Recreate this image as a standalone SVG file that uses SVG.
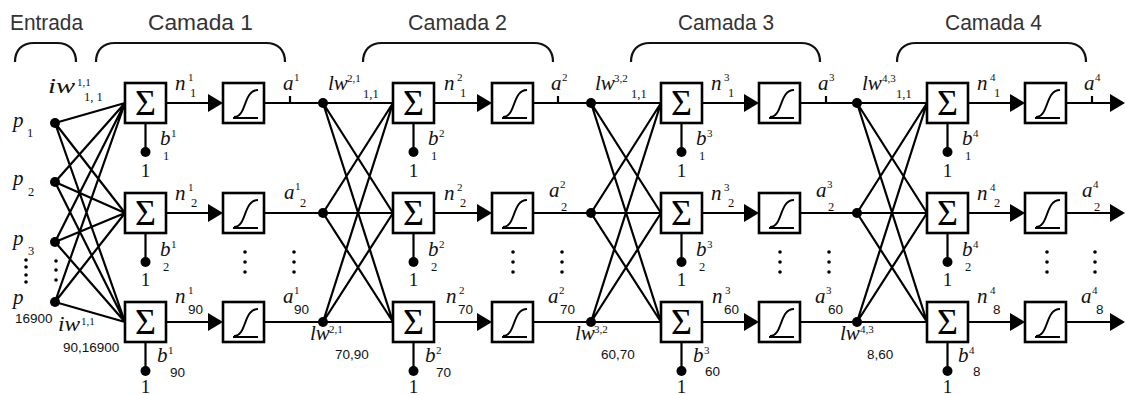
<svg xmlns="http://www.w3.org/2000/svg" width="1125" height="395" viewBox="0 0 1125 395">
  <defs>
    <style>
      .ln { stroke: #000; stroke-width: 2.2; fill: none; }
      .box { fill: #fff; stroke: #000; stroke-width: 2.6; }
      .crv { stroke: #000; stroke-width: 2; fill: none; }
      .dot { fill: #000; }
      .pt { fill: #000; }
      .brace { stroke: #111; stroke-width: 2.2; fill: none; }
      .ttl { font-family: "Liberation Sans", Arial, sans-serif; font-size: 22px; fill: #333; }
      .it { font-family: "Liberation Serif", "Times New Roman", serif; font-style: italic; font-size: 21px; fill: #111; }
      .sup { font-family: "Liberation Serif", "Times New Roman", serif; font-size: 11px; fill: #111; }
      .sub { font-family: "Liberation Serif", "Times New Roman", serif; font-size: 12.5px; fill: #111; }
      .num { font-family: "Liberation Sans", Arial, sans-serif; font-size: 13.5px; fill: #111; }
      .one { font-family: "Liberation Serif", "Times New Roman", serif; font-size: 19px; fill: #111; text-anchor: middle; }
      .sig { font-family: "Liberation Serif", "Times New Roman", serif; font-size: 36px; fill: #000; text-anchor: middle; }
    </style>
    <!-- summation block: 41x40 box with a sigma -->
    <g id="sumBlock">
      <rect class="box" x="0" y="-20" width="41" height="40"/>
      <text class="sig" x="20.5" y="12">Σ</text>
    </g>
    <!-- log-sigmoid transfer block -->
    <g id="sigBlock">
      <rect class="box" x="0" y="-20" width="41" height="40"/>
      <path class="crv" d="M10,15 L35,15"/>
      <path class="crv" d="M11,14 C24,14 20,-13 35,-13"/>
    </g>
    <!-- bias input: stem and dot -->
    <g id="biasStem">
      <path class="ln" d="M0,20 L0,49"/>
      <circle class="dot" cx="0" cy="49" r="5"/>
    </g>
    <polygon id="arrowHead" points="-15,-9 0,0 -15,9" fill="#000"/>
  </defs>

  <rect width="1125" height="395" fill="#fff"/>

  <!-- section titles and braces -->
  <g id="titles">
    <text class="ttl" x="10" y="30" textLength="73" lengthAdjust="spacingAndGlyphs">Entrada</text>
    <text class="ttl" x="148" y="30" textLength="105" lengthAdjust="spacingAndGlyphs">Camada 1</text>
    <text class="ttl" x="408" y="30" textLength="99" lengthAdjust="spacingAndGlyphs">Camada 2</text>
    <text class="ttl" x="678" y="30" textLength="96" lengthAdjust="spacingAndGlyphs">Camada 3</text>
    <text class="ttl" x="945" y="30" textLength="97" lengthAdjust="spacingAndGlyphs">Camada 4</text>
    <path class="brace" d="M15,62 C15,50 22,43 34,43 L57,43 C69,43 76,50 76,62"/>
    <path class="brace" d="M96,62 C96,50 103,43 115,43 L266,43 C278,43 285,50 285,62"/>
    <path class="brace" d="M363,62 C363,50 370,43 382,43 L534,43 C546,43 553,50 553,62"/>
    <path class="brace" d="M631,62 C631,50 638,43 650,43 L801,43 C813,43 820,50 820,62"/>
    <path class="brace" d="M897,62 C897,50 904,43 916,43 L1067,43 C1079,43 1086,50 1086,62"/>
  </g>

  <!-- connectors -->
  <g id="connectors">
    <!-- input weights: every input to every first-layer sum -->
    <path class="ln" d="M55,123 L125,103 M55,123 L125,213 M55,123 L125,322
                        M55,182 L125,103 M55,182 L125,213 M55,182 L125,322
                        M55,242 L125,103 M55,242 L125,213 M55,242 L125,322
                        M55,302 L125,103 M55,302 L125,213 M55,302 L125,322"/>
    <!-- layer weights (cross links) -->
    <path class="ln" d="M323,103 L393,213 M323,103 L393,322 M323,213 L393,103 M323,213 L393,322 M323,322 L393,103 M323,322 L393,213"/>
    <path class="ln" d="M591,103 L661,213 M591,103 L661,322 M591,213 L661,103 M591,213 L661,322 M591,322 L661,103 M591,322 L661,213"/>
    <path class="ln" d="M857,103 L927,213 M857,103 L927,322 M857,213 L927,103 M857,213 L927,322 M857,322 L927,103 M857,322 L927,213"/>
    <!-- straight signal paths: sum -> transfer, transfer -> next sum -->
    <path class="ln" d="M166,103 L210,103 M166,213 L210,213 M166,322 L210,322
                        M264,103 L393,103 M264,213 L393,213 M264,322 L393,322
                        M434,103 L478,103 M434,213 L478,213 M434,322 L478,322
                        M532,103 L661,103 M532,213 L661,213 M532,322 L661,322
                        M702,103 L746,103 M702,213 L746,213 M702,322 L746,322
                        M800,103 L927,103 M800,213 L927,213 M800,322 L927,322
                        M968,103 L1012,103 M968,213 L1012,213 M968,322 L1012,322
                        M1066,103 L1112,103 M1066,213 L1112,213 M1066,322 L1112,322"/>
    <!-- output ticks -->
    <path class="ln" d="M290,96 L290,103 M558,96 L558,103 M826,96 L826,103 M1092,96 L1092,103" stroke-width="1.4"/>
    <!-- arrowheads -->
    <use href="#arrowHead" x="223" y="103"/><use href="#arrowHead" x="223" y="213"/><use href="#arrowHead" x="223" y="322"/>
    <use href="#arrowHead" x="492" y="103"/><use href="#arrowHead" x="492" y="213"/><use href="#arrowHead" x="492" y="322"/>
    <use href="#arrowHead" x="759" y="103"/><use href="#arrowHead" x="759" y="213"/><use href="#arrowHead" x="759" y="322"/>
    <use href="#arrowHead" x="1025" y="103"/><use href="#arrowHead" x="1025" y="213"/><use href="#arrowHead" x="1025" y="322"/>
    <use href="#arrowHead" x="1125" y="103"/><use href="#arrowHead" x="1125" y="213"/><use href="#arrowHead" x="1125" y="322"/>
    <!-- bias stems -->
    <use href="#biasStem" x="145.5" y="103"/><use href="#biasStem" x="145.5" y="213"/><use href="#biasStem" x="145.5" y="322"/>
    <use href="#biasStem" x="413.5" y="103"/><use href="#biasStem" x="413.5" y="213"/><use href="#biasStem" x="413.5" y="322"/>
    <use href="#biasStem" x="681.5" y="103"/><use href="#biasStem" x="681.5" y="213"/><use href="#biasStem" x="681.5" y="322"/>
    <use href="#biasStem" x="947.5" y="103"/><use href="#biasStem" x="947.5" y="213"/><use href="#biasStem" x="947.5" y="322"/>
  </g>

  <!-- inputs -->
  <g id="input-p1">
    <circle class="dot" cx="55" cy="123" r="5"/>
    <text class="it" x="13" y="127">p</text><text class="sub" x="27" y="137">1</text>
  </g>
  <g id="input-p2">
    <circle class="dot" cx="55" cy="182" r="5"/>
    <text class="it" x="13" y="185">p</text><text class="sub" x="28" y="196">2</text>
  </g>
  <g id="input-p3">
    <circle class="dot" cx="55" cy="242" r="5"/>
    <text class="it" x="13" y="245">p</text><text class="sub" x="28" y="255">3</text>
  </g>
  <g id="input-p16900">
    <circle class="dot" cx="55" cy="302" r="5"/>
    <text class="it" x="13" y="304">p</text><text class="num" x="15" y="323">16900</text>
  </g>
  <g id="input-ellipsis">
    <circle class="pt" cx="26" cy="260" r="1.8"/><circle class="pt" cx="26" cy="267" r="1.8"/>
    <circle class="pt" cx="26" cy="275" r="1.8"/><circle class="pt" cx="26" cy="282" r="1.8"/>
    <circle class="pt" cx="56" cy="261" r="1.8"/><circle class="pt" cx="56" cy="270" r="1.8"/><circle class="pt" cx="56" cy="280" r="1.8"/>
  </g>
  <g id="iw-labels">
    <text class="it" x="48" y="93" textLength="27" lengthAdjust="spacingAndGlyphs">iw</text>
    <text class="sup" x="77" y="86">1,1</text>
    <text class="sub" x="84" y="101">1, 1</text>
    <text class="it" x="58" y="331" textLength="22" lengthAdjust="spacingAndGlyphs">iw</text>
    <text class="sup" x="81" y="325">1,1</text>
    <text class="num" x="63" y="352">90,16900</text>
  </g>

  <!-- layer 1 -->
  <g id="L1-sum1"><use href="#sumBlock" x="125" y="103"/></g>
  <g id="L1-sum2"><use href="#sumBlock" x="125" y="213"/></g>
  <g id="L1-sum90"><use href="#sumBlock" x="125" y="322"/></g>
  <g id="L1-f1"><use href="#sigBlock" x="223" y="103"/></g>
  <g id="L1-f2"><use href="#sigBlock" x="223" y="213"/></g>
  <g id="L1-f90"><use href="#sigBlock" x="223" y="322"/></g>
  <g id="L1-labels">
    <text class="it" x="175" y="90">n</text><text class="sup" x="188" y="81">1</text><text class="sub" x="190" y="97">1</text>
    <text class="it" x="175" y="200">n</text><text class="sup" x="188" y="191">1</text><text class="sub" x="191" y="207">2</text>
    <text class="it" x="175" y="303">n</text><text class="sup" x="188" y="294">1</text><text class="num" x="188" y="314">90</text>
    <text class="it" x="283" y="90">a</text><text class="sup" x="294" y="81">1</text>
    <text class="it" x="284" y="199">a</text><text class="sup" x="295" y="190">1</text><text class="sub" x="300" y="207">2</text>
    <text class="it" x="283" y="303">a</text><text class="sup" x="294" y="294">1</text><text class="num" x="294" y="314">90</text>
    <text class="it" x="160" y="145">b</text><text class="sup" x="171" y="137">1</text><text class="sub" x="163" y="160">1</text>
    <text class="it" x="160" y="256">b</text><text class="sup" x="171" y="248">1</text><text class="sub" x="163" y="271">2</text>
    <text class="it" x="157" y="362">b</text><text class="sup" x="168" y="354">1</text><text class="num" x="170" y="377">90</text>
    <text class="one" x="145.5" y="177">1</text><text class="one" x="145.5" y="286">1</text><text class="one" x="145.5" y="393">1</text>
    <circle class="pt" cx="245" cy="252" r="1.8"/><circle class="pt" cx="245" cy="262" r="1.8"/><circle class="pt" cx="245" cy="272" r="1.8"/>
    <circle class="pt" cx="294" cy="252" r="1.8"/><circle class="pt" cx="294" cy="262" r="1.8"/><circle class="pt" cx="294" cy="272" r="1.8"/>
  </g>

  <!-- layer 2 -->
  <g id="L2-in"><circle class="dot" cx="323" cy="103" r="5"/><circle class="dot" cx="323" cy="213" r="5"/><circle class="dot" cx="323" cy="322" r="5"/></g>
  <g id="L2-sum1"><use href="#sumBlock" x="393" y="103"/></g>
  <g id="L2-sum2"><use href="#sumBlock" x="393" y="213"/></g>
  <g id="L2-sum70"><use href="#sumBlock" x="393" y="322"/></g>
  <g id="L2-f1"><use href="#sigBlock" x="492" y="103"/></g>
  <g id="L2-f2"><use href="#sigBlock" x="492" y="213"/></g>
  <g id="L2-f70"><use href="#sigBlock" x="492" y="322"/></g>
  <g id="L2-labels">
    <text class="it" x="328" y="90">lw</text><text class="sup" x="347" y="82">2,1</text><text class="sub" x="363" y="98">1,1</text>
    <text class="it" x="310" y="340">lw</text><text class="sup" x="329" y="333">2,1</text><text class="num" x="335" y="359">70,90</text>
    <text class="it" x="444" y="90">n</text><text class="sup" x="457" y="81">2</text><text class="sub" x="460" y="97">1</text>
    <text class="it" x="444" y="200">n</text><text class="sup" x="457" y="191">2</text><text class="sub" x="460" y="207">2</text>
    <text class="it" x="446" y="303">n</text><text class="sup" x="459" y="294">2</text><text class="num" x="458" y="314">70</text>
    <text class="it" x="551" y="90">a</text><text class="sup" x="562" y="81">2</text>
    <text class="it" x="549" y="197">a</text><text class="sup" x="560" y="188">2</text><text class="sub" x="561" y="211">2</text>
    <text class="it" x="548" y="303">a</text><text class="sup" x="559" y="294">2</text><text class="num" x="560" y="314">70</text>
    <text class="it" x="428" y="145">b</text><text class="sup" x="439" y="137">2</text><text class="sub" x="431" y="160">1</text>
    <text class="it" x="428" y="256">b</text><text class="sup" x="439" y="248">2</text><text class="sub" x="431" y="271">2</text>
    <text class="it" x="425" y="362">b</text><text class="sup" x="436" y="354">2</text><text class="num" x="436" y="377">70</text>
    <text class="one" x="413.5" y="177">1</text><text class="one" x="413.5" y="286">1</text><text class="one" x="413.5" y="393">1</text>
    <circle class="pt" cx="513" cy="252" r="1.8"/><circle class="pt" cx="513" cy="262" r="1.8"/><circle class="pt" cx="513" cy="272" r="1.8"/>
    <circle class="pt" cx="562" cy="252" r="1.8"/><circle class="pt" cx="562" cy="262" r="1.8"/><circle class="pt" cx="562" cy="272" r="1.8"/>
  </g>

  <!-- layer 3 -->
  <g id="L3-in"><circle class="dot" cx="591" cy="103" r="5"/><circle class="dot" cx="591" cy="213" r="5"/><circle class="dot" cx="591" cy="322" r="5"/></g>
  <g id="L3-sum1"><use href="#sumBlock" x="661" y="103"/></g>
  <g id="L3-sum2"><use href="#sumBlock" x="661" y="213"/></g>
  <g id="L3-sum60"><use href="#sumBlock" x="661" y="322"/></g>
  <g id="L3-f1"><use href="#sigBlock" x="759" y="103"/></g>
  <g id="L3-f2"><use href="#sigBlock" x="759" y="213"/></g>
  <g id="L3-f60"><use href="#sigBlock" x="759" y="322"/></g>
  <g id="L3-labels">
    <text class="it" x="595" y="90">lw</text><text class="sup" x="614" y="82">3,2</text><text class="sub" x="631" y="98">1,1</text>
    <text class="it" x="575" y="340">lw</text><text class="sup" x="594" y="333">3,2</text><text class="num" x="601" y="359">60,70</text>
    <text class="it" x="711" y="90">n</text><text class="sup" x="724" y="81">3</text><text class="sub" x="728" y="97">1</text>
    <text class="it" x="711" y="200">n</text><text class="sup" x="724" y="191">3</text><text class="sub" x="728" y="207">2</text>
    <text class="it" x="712" y="303">n</text><text class="sup" x="725" y="294">3</text><text class="num" x="724" y="314">60</text>
    <text class="it" x="818" y="90">a</text><text class="sup" x="829" y="81">3</text>
    <text class="it" x="816" y="197">a</text><text class="sup" x="827" y="188">3</text><text class="sub" x="828" y="211">2</text>
    <text class="it" x="815" y="303">a</text><text class="sup" x="826" y="294">3</text><text class="num" x="828" y="314">60</text>
    <text class="it" x="696" y="145">b</text><text class="sup" x="707" y="137">3</text><text class="sub" x="699" y="160">1</text>
    <text class="it" x="696" y="256">b</text><text class="sup" x="707" y="248">3</text><text class="sub" x="699" y="271">2</text>
    <text class="it" x="693" y="362">b</text><text class="sup" x="704" y="354">3</text><text class="num" x="705" y="376">60</text>
    <text class="one" x="681.5" y="177">1</text><text class="one" x="681.5" y="286">1</text><text class="one" x="681.5" y="393">1</text>
    <circle class="pt" cx="780" cy="252" r="1.8"/><circle class="pt" cx="780" cy="262" r="1.8"/><circle class="pt" cx="780" cy="272" r="1.8"/>
    <circle class="pt" cx="829" cy="252" r="1.8"/><circle class="pt" cx="829" cy="262" r="1.8"/><circle class="pt" cx="829" cy="272" r="1.8"/>
  </g>

  <!-- layer 4 -->
  <g id="L4-in"><circle class="dot" cx="857" cy="103" r="5"/><circle class="dot" cx="857" cy="213" r="5"/><circle class="dot" cx="857" cy="322" r="5"/></g>
  <g id="L4-sum1"><use href="#sumBlock" x="927" y="103"/></g>
  <g id="L4-sum2"><use href="#sumBlock" x="927" y="213"/></g>
  <g id="L4-sum8"><use href="#sumBlock" x="927" y="322"/></g>
  <g id="L4-f1"><use href="#sigBlock" x="1025" y="103"/></g>
  <g id="L4-f2"><use href="#sigBlock" x="1025" y="213"/></g>
  <g id="L4-f8"><use href="#sigBlock" x="1025" y="322"/></g>
  <g id="L4-labels">
    <text class="it" x="862" y="90">lw</text><text class="sup" x="882" y="82">4,3</text><text class="sub" x="896" y="98">1,1</text>
    <text class="it" x="840" y="340">lw</text><text class="sup" x="860" y="333">4,3</text><text class="num" x="867" y="359">8,60</text>
    <text class="it" x="977" y="90">n</text><text class="sup" x="990" y="81">4</text><text class="sub" x="994" y="97">1</text>
    <text class="it" x="977" y="200">n</text><text class="sup" x="990" y="191">4</text><text class="sub" x="994" y="207">2</text>
    <text class="it" x="977" y="303">n</text><text class="sup" x="990" y="294">4</text><text class="num" x="993" y="314">8</text>
    <text class="it" x="1084" y="90">a</text><text class="sup" x="1095" y="81">4</text>
    <text class="it" x="1082" y="197">a</text><text class="sup" x="1093" y="188">4</text><text class="sub" x="1094" y="211">2</text>
    <text class="it" x="1081" y="303">a</text><text class="sup" x="1092" y="294">4</text><text class="num" x="1096" y="314">8</text>
    <text class="it" x="962" y="145">b</text><text class="sup" x="973" y="137">4</text><text class="sub" x="965" y="160">1</text>
    <text class="it" x="962" y="256">b</text><text class="sup" x="973" y="248">4</text><text class="sub" x="965" y="271">2</text>
    <text class="it" x="958" y="362">b</text><text class="sup" x="969" y="354">4</text><text class="num" x="973" y="376">8</text>
    <text class="one" x="947.5" y="177">1</text><text class="one" x="947.5" y="286">1</text><text class="one" x="947.5" y="393">1</text>
    <circle class="pt" cx="1047" cy="252" r="1.8"/><circle class="pt" cx="1047" cy="262" r="1.8"/><circle class="pt" cx="1047" cy="272" r="1.8"/>
    <circle class="pt" cx="1095" cy="252" r="1.8"/><circle class="pt" cx="1095" cy="262" r="1.8"/><circle class="pt" cx="1095" cy="272" r="1.8"/>
  </g>
</svg>
